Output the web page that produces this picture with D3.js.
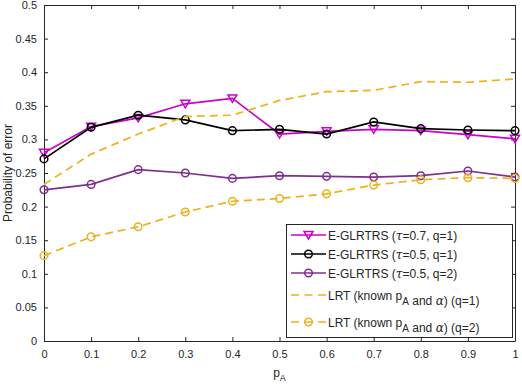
<!DOCTYPE html>
<html lang="en">
<head>
  <meta charset="utf-8">
  <title>Probability of error vs pA</title>
  <script src="https://cdnjs.cloudflare.com/ajax/libs/d3/7.8.5/d3.min.js"></script>
  <style>
    body { margin: 0; background: white; }
    text { font-family: "Liberation Sans", Arial, sans-serif; fill: #262626; }
  </style>
</head>
<body>
  <div id="chart"></div>

  <script>
    // data
    const pA = [0, 0.1, 0.2, 0.3, 0.4, 0.5, 0.6, 0.7, 0.8, 0.9, 1.0];
    const glrt07q1 = [0.280, 0.319, 0.332, 0.353, 0.361, 0.308, 0.312, 0.315, 0.313, 0.307, 0.301];
    const glrt05q1 = [0.271, 0.318, 0.336, 0.329, 0.313, 0.315, 0.308, 0.326, 0.316, 0.314, 0.313];
    const glrt05q2 = [0.225, 0.233, 0.255, 0.250, 0.242, 0.246, 0.245, 0.244, 0.246, 0.253, 0.244];
    const lrtQ1 = [0.233, 0.278, 0.308, 0.334, 0.336, 0.358, 0.371, 0.373, 0.386, 0.385, 0.390];
    const lrtQ2 = [0.127, 0.155, 0.170, 0.192, 0.208, 0.212, 0.219, 0.232, 0.240, 0.243, 0.242];

    const xTicks = [0, 0.1, 0.2, 0.3, 0.4, 0.5, 0.6, 0.7, 0.8, 0.9, 1];
    const yTicks = [0, 0.05, 0.1, 0.15, 0.2, 0.25, 0.3, 0.35, 0.4, 0.45, 0.5];

    const series = [
      { name: 'glrt07q1', values: glrt07q1, color: '#cc00cc', marker: 'tri', dash: null },
      { name: 'glrt05q1', values: glrt05q1, color: '#000000', marker: 'circle', dash: null },
      { name: 'glrt05q2', values: glrt05q2, color: '#7e2f8e', marker: 'circle', dash: null },
      { name: 'lrtQ1', values: lrtQ1, color: '#edb120', marker: null, dash: '8,5' },
      { name: 'lrtQ2', values: lrtQ2, color: '#edb120', marker: 'circle', dash: '8,5' }
    ];

    const width = 522, height = 386;
    const margin = { left: 44, right: 7, top: 5, bottom: 45 };
    const plotW = width - margin.left - margin.right;
    const plotH = height - margin.top - margin.bottom;

    const svg = d3.select('#chart')
      .append('svg')
      .attr('width', width)
      .attr('height', height);

    const g = svg.append('g')
      .attr('transform', `translate(${margin.left}, ${margin.top})`);

    const x = d3.scaleLinear().domain([0, 1]).range([0, plotW]);
    const y = d3.scaleLinear().domain([0, 0.5]).range([plotH, 0]);

    const fmt = d => String(+d.toFixed(2));

    // axes, MATLAB style: inward ticks, box around
    const axisColor = '#262626';
    const axBottom = g.append('g')
      .attr('transform', `translate(0, ${plotH})`)
      .call(d3.axisBottom(x).tickValues(xTicks).tickFormat(fmt).tickSizeInner(-4).tickSizeOuter(0).tickPadding(9));
    const axLeft = g.append('g')
      .call(d3.axisLeft(y).tickValues(yTicks).tickFormat(fmt).tickSizeInner(-4).tickSizeOuter(0).tickPadding(7));
    const axTop = g.append('g')
      .call(d3.axisTop(x).tickValues(xTicks).tickFormat('').tickSizeInner(-4).tickSizeOuter(0));
    const axRight = g.append('g')
      .attr('transform', `translate(${plotW}, 0)`)
      .call(d3.axisRight(y).tickValues(yTicks).tickFormat('').tickSizeInner(-4).tickSizeOuter(0));

    [axBottom, axLeft, axTop, axRight].forEach(a => {
      a.selectAll('path, line').attr('stroke', axisColor);
      a.selectAll('text').style('font-size', '11px').attr('fill', axisColor);
    });

    // axis titles
    const xLabel = svg.append('text')
      .attr('x', margin.left + plotW / 2)
      .attr('y', 377)
      .attr('text-anchor', 'middle')
      .style('font-size', '12px');
    xLabel.append('tspan').text('p');
    xLabel.append('tspan').attr('dy', 4).style('font-size', '9px').text('A');

    svg.append('text')
      .attr('transform', `translate(12, ${margin.top + plotH / 2}) rotate(-90)`)
      .attr('text-anchor', 'middle')
      .style('font-size', '12px')
      .text('Probability of error');

    // lines
    const line = d3.line()
      .x((d, i) => x(pA[i]))
      .y(d => y(d));

    const triPath = 'M-4.5,-3.5 L4.5,-3.5 L0,4 Z';

    function drawMarker(sel, s, cx, cy) {
      if (s.marker === 'circle') {
        sel.append('circle')
          .attr('cx', cx).attr('cy', cy).attr('r', 3.8)
          .attr('fill', 'none')
          .attr('stroke', s.color)
          .attr('stroke-width', 1.5);
      } else if (s.marker === 'tri') {
        sel.append('path')
          .attr('d', triPath)
          .attr('transform', `translate(${cx}, ${cy})`)
          .attr('fill', 'none')
          .attr('stroke', s.color)
          .attr('stroke-width', 1.5);
      }
    }

    series.forEach(s => {
      g.append('path')
        .datum(s.values)
        .attr('d', line)
        .attr('fill', 'none')
        .attr('stroke', s.color)
        .attr('stroke-width', 1.7)
        .attr('stroke-dasharray', s.dash);
      const mg = g.append('g');
      s.values.forEach((v, i) => drawMarker(mg, s, x(pA[i]), y(v)));
    });

    // legend
    const legendLabels = [
      ['E-GLRTRS (', { t: 'τ', italic: true }, '=0.7, q=1)'],
      ['E-GLRTRS (', { t: 'τ', italic: true }, '=0.5, q=1)'],
      ['E-GLRTRS (', { t: 'τ', italic: true }, '=0.5, q=2)'],
      ['LRT (known p', { t: 'A', sub: true }, ' and ', { t: 'α', italic: true }, ') (q=1)'],
      ['LRT (known p', { t: 'A', sub: true }, ' and ', { t: 'α', italic: true }, ') (q=2)']
    ];
    const rowY = [235, 254, 273, 295, 322];

    const legend = svg.append('g');
    legend.append('rect')
      .attr('x', 286.5).attr('y', 224.5)
      .attr('width', 226).attr('height', 113)
      .attr('fill', 'white')
      .attr('stroke', axisColor)
      .attr('stroke-width', 1);

    series.forEach((s, i) => {
      const ly = rowY[i];
      legend.append('line')
        .attr('x1', 291).attr('x2', 326)
        .attr('y1', ly).attr('y2', ly)
        .attr('stroke', s.color)
        .attr('stroke-width', 1.7)
        .attr('stroke-dasharray', s.dash ? '8,5.5' : null);
      drawMarker(legend, s, 308.5, ly);

      const t = legend.append('text')
        .attr('x', 328)
        .attr('y', ly + 4.5)
        .style('font-size', '12px');
      legendLabels[i].forEach(part => {
        if (typeof part === 'string') {
          t.append('tspan').text(part);
        } else if (part.sub) {
          t.append('tspan').attr('dy', 5).style('font-size', '10px').text(part.t);
          t.append('tspan').attr('dy', -5).text('');
        } else {
          t.append('tspan').style('font-style', 'italic').style('font-family', '"DejaVu Serif", serif').text(part.t);
        }
      });
    });
  </script>
</body>
</html>
